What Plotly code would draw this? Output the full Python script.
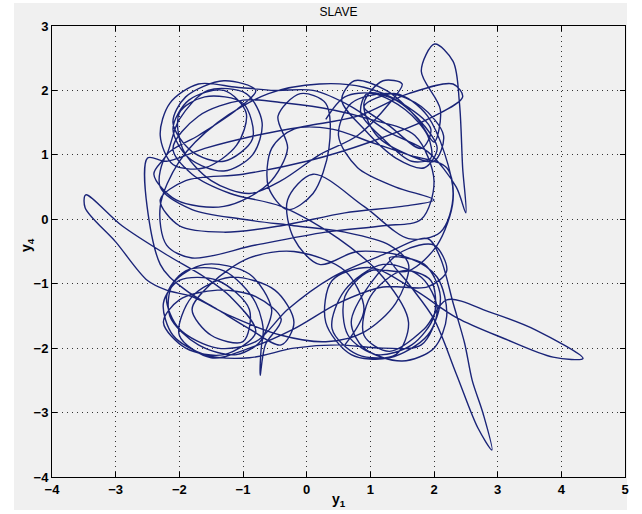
import plotly.graph_objects as go

# Trajectory of the slave system (y1, y4)
trajectory = [
    (0.30,1.55),(0.60,1.90),(1.05,1.95),(1.55,1.70),(1.90,1.30),(1.95,0.95),(1.65,0.90),(1.20,1.25),(0.85,1.65),
    (0.95,1.95),(1.40,1.85),(1.85,1.45),(2.05,1.10),(1.85,0.80),(1.40,0.95),(0.90,1.40),(0.55,1.85),(0.75,2.15),
    (1.25,2.00),(1.75,1.55),(2.00,1.20),
    (2.10,1.70),(1.80,2.30),(2.01,2.72),(2.30,2.45),(2.40,1.80),(2.45,0.80),(2.50,0.10),(2.35,0.50),
    (1.90,1.05),(1.30,1.35),(0.70,1.75),(0.10,2.00),(-0.50,2.00),(-1.10,2.05),(-1.70,2.10),(-2.15,1.80),(-2.30,1.30),
    (-2.10,0.85),(-1.60,0.80),(-1.10,1.15),(-0.95,1.65),(-1.30,2.00),(-1.85,1.85),(-2.10,1.40),(-1.85,0.95),
    (-1.30,0.75),(-0.85,1.00),(-0.70,1.50),(-0.95,1.95),(-1.55,2.00),(-2.00,1.55),(-2.20,1.00),(-2.40,0.70),(-2.05,0.30),
    (-1.30,0.20),(-0.60,0.55),(-0.30,1.10),(-0.45,1.60),(-0.10,1.95),(0.30,1.80),(0.35,1.10),(0.10,0.40),(-0.30,0.15),
    (-0.60,0.50),(-0.55,1.10),(-0.20,1.40),(0.40,1.40),(1.00,1.20),(1.60,1.00),(2.20,0.80),
    (2.30,0.30),(2.05,-0.40),(1.60,-0.80),(1.00,-0.80),(0.60,-1.20),(0.65,-1.80),(1.10,-2.10),(1.65,-1.95),
    (2.00,-1.50),(1.95,-0.95),(1.50,-0.80),(1.00,-1.20),(0.90,-1.80),(1.30,-2.05),(1.85,-1.70),(2.20,-1.25),
    (2.90,-1.45),(3.60,-1.72),(4.34,-2.16),(3.87,-2.14),(3.10,-1.85),(2.36,-1.53),(1.70,-1.10),(1.00,-0.75),
    (0.40,-0.95),(0.30,-1.60),(0.70,-2.10),(1.30,-2.15),(1.90,-1.80),(2.10,-1.20),(1.85,-0.70),(1.30,-0.60),
    (1.60,-1.00),(2.00,-1.55),(2.35,-2.40),(2.69,-3.24),(2.91,-3.58),(2.77,-3.01),(2.60,-2.50),(2.48,-1.92),
    (2.30,-1.30),(2.10,-0.60),(1.90,-0.30),
    (1.20,-0.55),(0.40,-0.90),(-0.30,-1.40),(-0.80,-1.90),(-1.40,-2.00),(-2.00,-1.70),(-2.20,-1.20),(-1.90,-0.80),
    (-1.30,-0.80),(-0.80,-1.30),(-0.70,-1.85),(-1.10,-2.10),(-1.70,-1.95),(-2.15,-1.50),(-2.10,-1.00),(-1.60,-0.70),
    (-0.90,-0.85),(-0.55,-1.40),
    (-0.70,-1.90),(-0.73,-2.42),(-0.65,-1.95),(-0.40,-1.55),
    (-0.80,-1.20),(-1.40,-1.10),(-2.00,-1.25),(-2.25,-1.60),(-1.90,-2.00),(-1.30,-2.10),(-0.80,-1.75),
    (-1.20,-1.20),(-1.60,-0.90),(-2.20,-0.55),(-2.90,-0.10),(-3.47,0.38),(-3.48,0.18),(-3.00,-0.35),(-2.50,-0.95),
    (-2.20,-1.10),(-1.80,-1.20),
    (-1.20,-1.50),(-0.40,-1.80),(0.30,-1.90),(0.90,-1.75),(1.40,-1.30),(1.60,-0.70),(1.30,-0.40),(0.60,-0.20),
    (-0.20,-0.10),(-1.00,0.00),(-1.80,0.15),(-2.30,0.50),(-2.20,1.00),(-1.70,1.30),
    (-1.10,1.70),(-0.80,2.00),(-1.30,2.15),(-1.90,1.90),(-2.10,1.50),(-1.80,1.05),(-1.30,0.90),(-0.85,1.25),
    (-1.00,1.80),(-1.60,1.90),(-2.00,1.65),(-1.95,1.10),(-1.50,0.60),(-0.90,0.40),(-0.40,0.60),
    (0.20,1.00),(0.80,1.30),(1.30,1.80),(1.50,2.10),(1.20,2.15),(0.90,1.80),(1.10,1.30),(1.60,1.00),(2.00,0.90),
    (2.15,1.30),(1.80,1.75),(1.30,1.95),(0.70,1.80),(0.50,1.30),(0.80,0.80),(1.40,0.50),(2.00,0.30),
    (1.50,0.20),(0.60,0.10),(-0.40,-0.10),(-1.30,-0.20),(-2.00,-0.10),(-2.30,0.30),(-1.90,0.60),(-1.00,0.70),
    (0.00,0.90),(1.00,1.20),(2.00,1.60),(2.45,1.90),(2.30,2.10),(1.60,1.95),(0.80,1.60),(0.00,1.45),(-0.80,1.30),
    (-1.60,1.10),(-2.20,0.90),(-2.50,0.95),
    (-2.30,-0.70),(-1.90,-1.10),(-1.40,-1.40),(-0.90,-1.70),(-0.40,-1.95),(-0.20,-1.60),(-0.50,-1.10),(-1.20,-0.90),
    (-1.80,-1.20),(-2.00,-1.80),(-1.50,-2.15),(-0.90,-2.00),
    (-0.20,-1.70),(0.50,-1.30),(1.20,-1.05),(1.90,-1.05),(2.20,-0.80),(2.00,-0.40),(1.50,-0.50),(1.00,-1.00),
    (0.70,-1.60),(0.90,-2.00),(1.50,-2.20),(2.00,-2.00),(2.20,-1.50),(2.05,-0.90),(1.60,-0.60),(0.80,-0.50),
    (0.20,-0.70),(-0.20,-0.30),(-0.30,0.30),(0.10,0.70),
    (0.90,0.20),(1.60,-0.30),(2.10,-0.20),(2.30,0.40),(1.90,1.60),(1.40,1.95),(0.90,1.75),(1.30,1.45),(1.80,1.10),
    (1.95,1.40),(1.50,1.80),(0.90,2.05),(0.20,2.10),(-0.60,1.95),(-1.40,1.50),(-2.00,0.90),(-2.30,0.20),(-2.20,-0.40),
    (-1.80,-0.60),(-0.80,-0.40),(0.30,-0.20),(1.20,-0.10),(1.80,0.00),(2.00,0.60),(1.70,1.30),(1.00,1.55),(0.40,1.70),
    (-0.30,1.80),(-1.00,1.85),(-1.70,1.60),(-2.10,1.10),(-1.80,0.70),(-1.20,0.40),(-0.40,0.20),(0.50,-0.30),
    (1.20,-0.90),(1.60,-1.60),(1.40,-2.10),(0.80,-2.10),(0.40,-1.70),(0.60,-1.10),(1.20,-0.70),(1.80,-0.90),
    (2.05,-1.40),(1.80,-1.95),(1.20,-2.00),(0.50,-1.95),(-0.20,-2.00),(-0.90,-2.15),(-1.60,-2.10),(-2.10,-1.80),
    (-2.25,-1.30),(-2.00,-0.95),(-1.40,-0.95),(-0.90,-1.40),(-1.00,-1.90),(-1.50,-1.80),(-1.80,-1.40),(-1.50,-1.00),
    (-0.90,-0.60),(-0.20,-0.50),(0.60,-0.80),(0.90,-1.40),(0.60,-1.95),
]
y1 = [p[0] for p in trajectory]
y4 = [p[1] for p in trajectory]

x_ticks = [-4, -3, -2, -1, 0, 1, 2, 3, 4, 5]
y_ticks = [-4, -3, -2, -1, 0, 1, 2, 3]

fig = go.Figure()
fig.add_trace(go.Scatter(x=y1, y=y4, mode="lines",
                         line=dict(color="#1a2478", width=1.4, shape="spline", smoothing=0.9),
                         hoverinfo="skip", showlegend=False))

axis_common = dict(showline=True, linecolor="black", linewidth=1, mirror="ticks",
                   ticks="inside", ticklen=5, tickcolor="black",
                   showgrid=True, gridcolor="#333333", griddash="1px,4px", gridwidth=1,
                   zeroline=False, automargin=False,
                   tickfont=dict(family="Liberation Sans", size=13, color="black", weight="bold"))

fig.update_xaxes(range=[-4, 5], tickvals=x_ticks, ticklabelstandoff=0, **axis_common)
fig.update_yaxes(range=[-4, 3], tickvals=y_ticks, **axis_common)

# axis titles placed beside the tick labels
fig.add_annotation(text="y<sub>4</sub>", xref="paper", yref="paper",
                   x=(27 - 52) / 573, y=(477 - 245) / 451, xanchor="center", yanchor="middle",
                   textangle=-90, showarrow=False,
                   font=dict(family="Liberation Sans", size=14, color="black", weight="bold"))
fig.add_annotation(text="y<sub>1</sub>", xref="paper", yref="paper",
                   x=0.5, y=(477 - 500) / 451, xanchor="center", yanchor="middle",
                   showarrow=False,
                   font=dict(family="Liberation Sans", size=14, color="black", weight="bold"))

fig.add_shape(type="rect", xref="paper", yref="paper",
              x0=-38/573, x1=1.0035, y0=-0.073, y1=1.051,
              fillcolor="#f0f0f0", line=dict(width=0), layer="below")

fig.update_layout(
    width=642, height=514,
    margin=dict(l=52, r=17, t=26, b=37),
    paper_bgcolor="white", plot_bgcolor="#f0f0f0",
    title=dict(text="SLAVE", x=0.5, xref="paper", y=1 - 12/514, yanchor="middle",
               font=dict(family="Liberation Sans", size=12, color="black")),
)

fig.write_html("out.html")
